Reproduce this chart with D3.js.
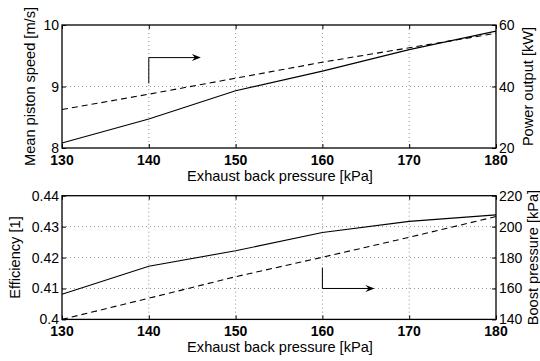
<!DOCTYPE html>
<html>
<head>
<meta charset="utf-8">
<script src="https://cdn.jsdelivr.net/npm/d3@7"></script>
<style>
  body { margin: 0; background: #fff; }
  svg text { font-family: "Liberation Sans", Arial, sans-serif; fill: #000; }
</style>
</head>
<body>
<div id="chart"></div>
<script>
// Exhaust back pressure, shared x values [kPa]
var backPressure = [130, 140, 150, 160, 170, 180];

// top panel
var pistonSpeed = [8.08, 8.47, 8.93, 9.25, 9.60, 9.90];   // solid, left axis
var powerOutput = [32.5, 37.5, 42.7, 47.9, 52.6, 57.3];   // dashed, right axis

// bottom panel
var efficiency = [0.4081, 0.4172, 0.4222, 0.4281, 0.4317, 0.4338]; // solid, left
var boostPressure = [140.0, 153.7, 167.6, 180.2, 193.1, 206.5];    // dashed, right

var xTicks = [130, 140, 150, 160, 170, 180];
var topLeftTicks = [8, 9, 10];
var topRightTicks = [20, 40, 60];
var botLeftTicks = [0.40, 0.41, 0.42, 0.43, 0.44];
var botRightTicks = [140, 160, 180, 200, 220];

// arrow annotations (x start, y from, y corner, x of the tip), in axis units
var topArrow = {x: 140, y0: 9.05, y1: 9.47, xTip: 146};
var botArrow = {x: 160, y0: 173.5, y1: 160, xTip: 166};

var width = 540, height = 361;
var svg = d3.select("#chart").append("svg")
  .attr("width", width)
  .attr("height", height);

var left = 62, right = 496;

function drawPanel(cfg) {
  var x = d3.scaleLinear().domain([130, 180]).range([left, right]);
  var yL = d3.scaleLinear().domain(cfg.leftDomain).range([cfg.bottom, cfg.top]);
  var yR = d3.scaleLinear().domain(cfg.rightDomain).range([cfg.bottom, cfg.top]);
  var g = svg.append("g");

  // dotted grid
  g.selectAll(".gx").data(xTicks.slice(1, -1)).enter().append("line")
    .attr("x1", function (d) { return x(d); }).attr("x2", function (d) { return x(d); })
    .attr("y1", cfg.top).attr("y2", cfg.bottom)
    .attr("stroke", "#777").attr("stroke-width", 0.8).attr("stroke-dasharray", "1,3");
  g.selectAll(".gy").data(cfg.leftTicks.slice(1, -1)).enter().append("line")
    .attr("x1", left).attr("x2", right)
    .attr("y1", function (d) { return yL(d); }).attr("y2", function (d) { return yL(d); })
    .attr("stroke", "#777").attr("stroke-width", 0.8).attr("stroke-dasharray", "1,3");

  // axes (ticks inward)
  g.append("g").attr("transform", "translate(0," + cfg.bottom + ")")
    .call(d3.axisTop(x).tickValues(xTicks).tickSize(4).tickFormat(""))
    .call(function (s) { s.select(".domain").remove(); });
  g.append("g").attr("transform", "translate(0," + cfg.top + ")")
    .call(d3.axisBottom(x).tickValues(xTicks).tickSize(4).tickFormat(""))
    .call(function (s) { s.select(".domain").remove(); });
  g.append("g").attr("transform", "translate(" + left + ",0)")
    .call(d3.axisRight(yL).tickValues(cfg.leftTicks).tickSize(4).tickFormat(""))
    .call(function (s) { s.select(".domain").remove(); });
  g.append("g").attr("transform", "translate(" + right + ",0)")
    .call(d3.axisLeft(yR).tickValues(cfg.rightTicks).tickSize(4).tickFormat(""))
    .call(function (s) { s.select(".domain").remove(); });

  // tick labels
  g.selectAll(".xl").data(xTicks).enter().append("text")
    .attr("x", function (d) { return x(d); })
    .attr("y", cfg.bottom + 17)
    .attr("text-anchor", "middle")
    .attr("font-size", 14).attr("font-weight", "bold")
    .text(function (d) { return d; });
  g.selectAll(".yl").data(cfg.leftTicks).enter().append("text")
    .attr("x", left - 3)
    .attr("y", function (d) { return yL(d) + 5; })
    .attr("text-anchor", "end")
    .attr("font-size", 14)
    .text(cfg.leftFormat);
  g.selectAll(".yr").data(cfg.rightTicks).enter().append("text")
    .attr("x", right + 3)
    .attr("y", function (d) { return yR(d) + 5; })
    .attr("text-anchor", "start")
    .attr("font-size", 14)
    .text(function (d) { return d; });

  // axis titles
  g.append("text")
    .attr("x", (left + right) / 2 + 1).attr("y", cfg.bottom + 33)
    .attr("text-anchor", "middle").attr("font-size", 14.6)
    .text("Exhaust back pressure [kPa]");
  g.append("text")
    .attr("transform", "translate(" + cfg.leftLabelX + "," + (cfg.top + cfg.bottom) / 2 + ")rotate(-90)")
    .attr("text-anchor", "middle").attr("font-size", 14.6)
    .text(cfg.leftLabel);
  g.append("text")
    .attr("transform", "translate(" + cfg.rightLabelX + "," + (cfg.top + cfg.bottom) / 2 + ")rotate(-90)")
    .attr("text-anchor", "middle").attr("font-size", 14.6)
    .text(cfg.rightLabel);

  // data lines
  var lineL = d3.line().x(function (d, i) { return x(backPressure[i]); }).y(function (d) { return yL(d); });
  var lineR = d3.line().x(function (d, i) { return x(backPressure[i]); }).y(function (d) { return yR(d); });
  g.append("path").attr("d", lineL(cfg.solid))
    .attr("fill", "none").attr("stroke", "#000").attr("stroke-width", 1.1);
  g.append("path").attr("d", lineR(cfg.dashed))
    .attr("fill", "none").attr("stroke", "#000").attr("stroke-width", 1.1)
    .attr("stroke-dasharray", "6,4");

  // arrow annotation
  var a = cfg.arrow, ya = cfg.arrowScale === "L" ? yL : yR;
  var ax = x(a.x), ay0 = ya(a.y0), ay1 = ya(a.y1), tip = x(a.xTip);
  g.append("path")
    .attr("d", "M" + ax + "," + ay0 + "V" + ay1 + "H" + (tip - 4))
    .attr("fill", "none").attr("stroke", "#000").attr("stroke-width", 1);
  g.append("path")
    .attr("d", "M" + tip + "," + ay1 + "L" + (tip - 9) + "," + (ay1 - 3.5) +
               "L" + (tip - 6) + "," + ay1 + "L" + (tip - 9) + "," + (ay1 + 3.5) + "Z")
    .attr("fill", "#000");

  // box
  g.append("rect")
    .attr("x", left).attr("y", cfg.top)
    .attr("width", right - left).attr("height", cfg.bottom - cfg.top)
    .attr("fill", "none").attr("stroke", "#000").attr("stroke-width", 1.3);
}

drawPanel({
  top: 25, bottom: 148,
  leftDomain: [8, 10], rightDomain: [20, 60],
  leftTicks: topLeftTicks, rightTicks: topRightTicks,
  leftFormat: function (d) { return d; },
  leftLabel: "Mean piston speed [m/s]", leftLabelX: 35,
  rightLabel: "Power output [kW]", rightLabelX: 533,
  solid: pistonSpeed, dashed: powerOutput,
  arrow: topArrow, arrowScale: "L"
});

drawPanel({
  top: 195.7, bottom: 319.4,
  leftDomain: [0.40, 0.44], rightDomain: [140, 220],
  leftTicks: botLeftTicks, rightTicks: botRightTicks,
  leftFormat: function (d) { return d === 0.4 ? "0.4" : d3.format(".2f")(d); },
  leftLabel: "Efficiency [1]", leftLabelX: 20,
  rightLabel: "Boost pressure [kPa]", rightLabelX: 538,
  solid: efficiency, dashed: boostPressure,
  arrow: botArrow, arrowScale: "R"
});
</script>
</body>
</html>
